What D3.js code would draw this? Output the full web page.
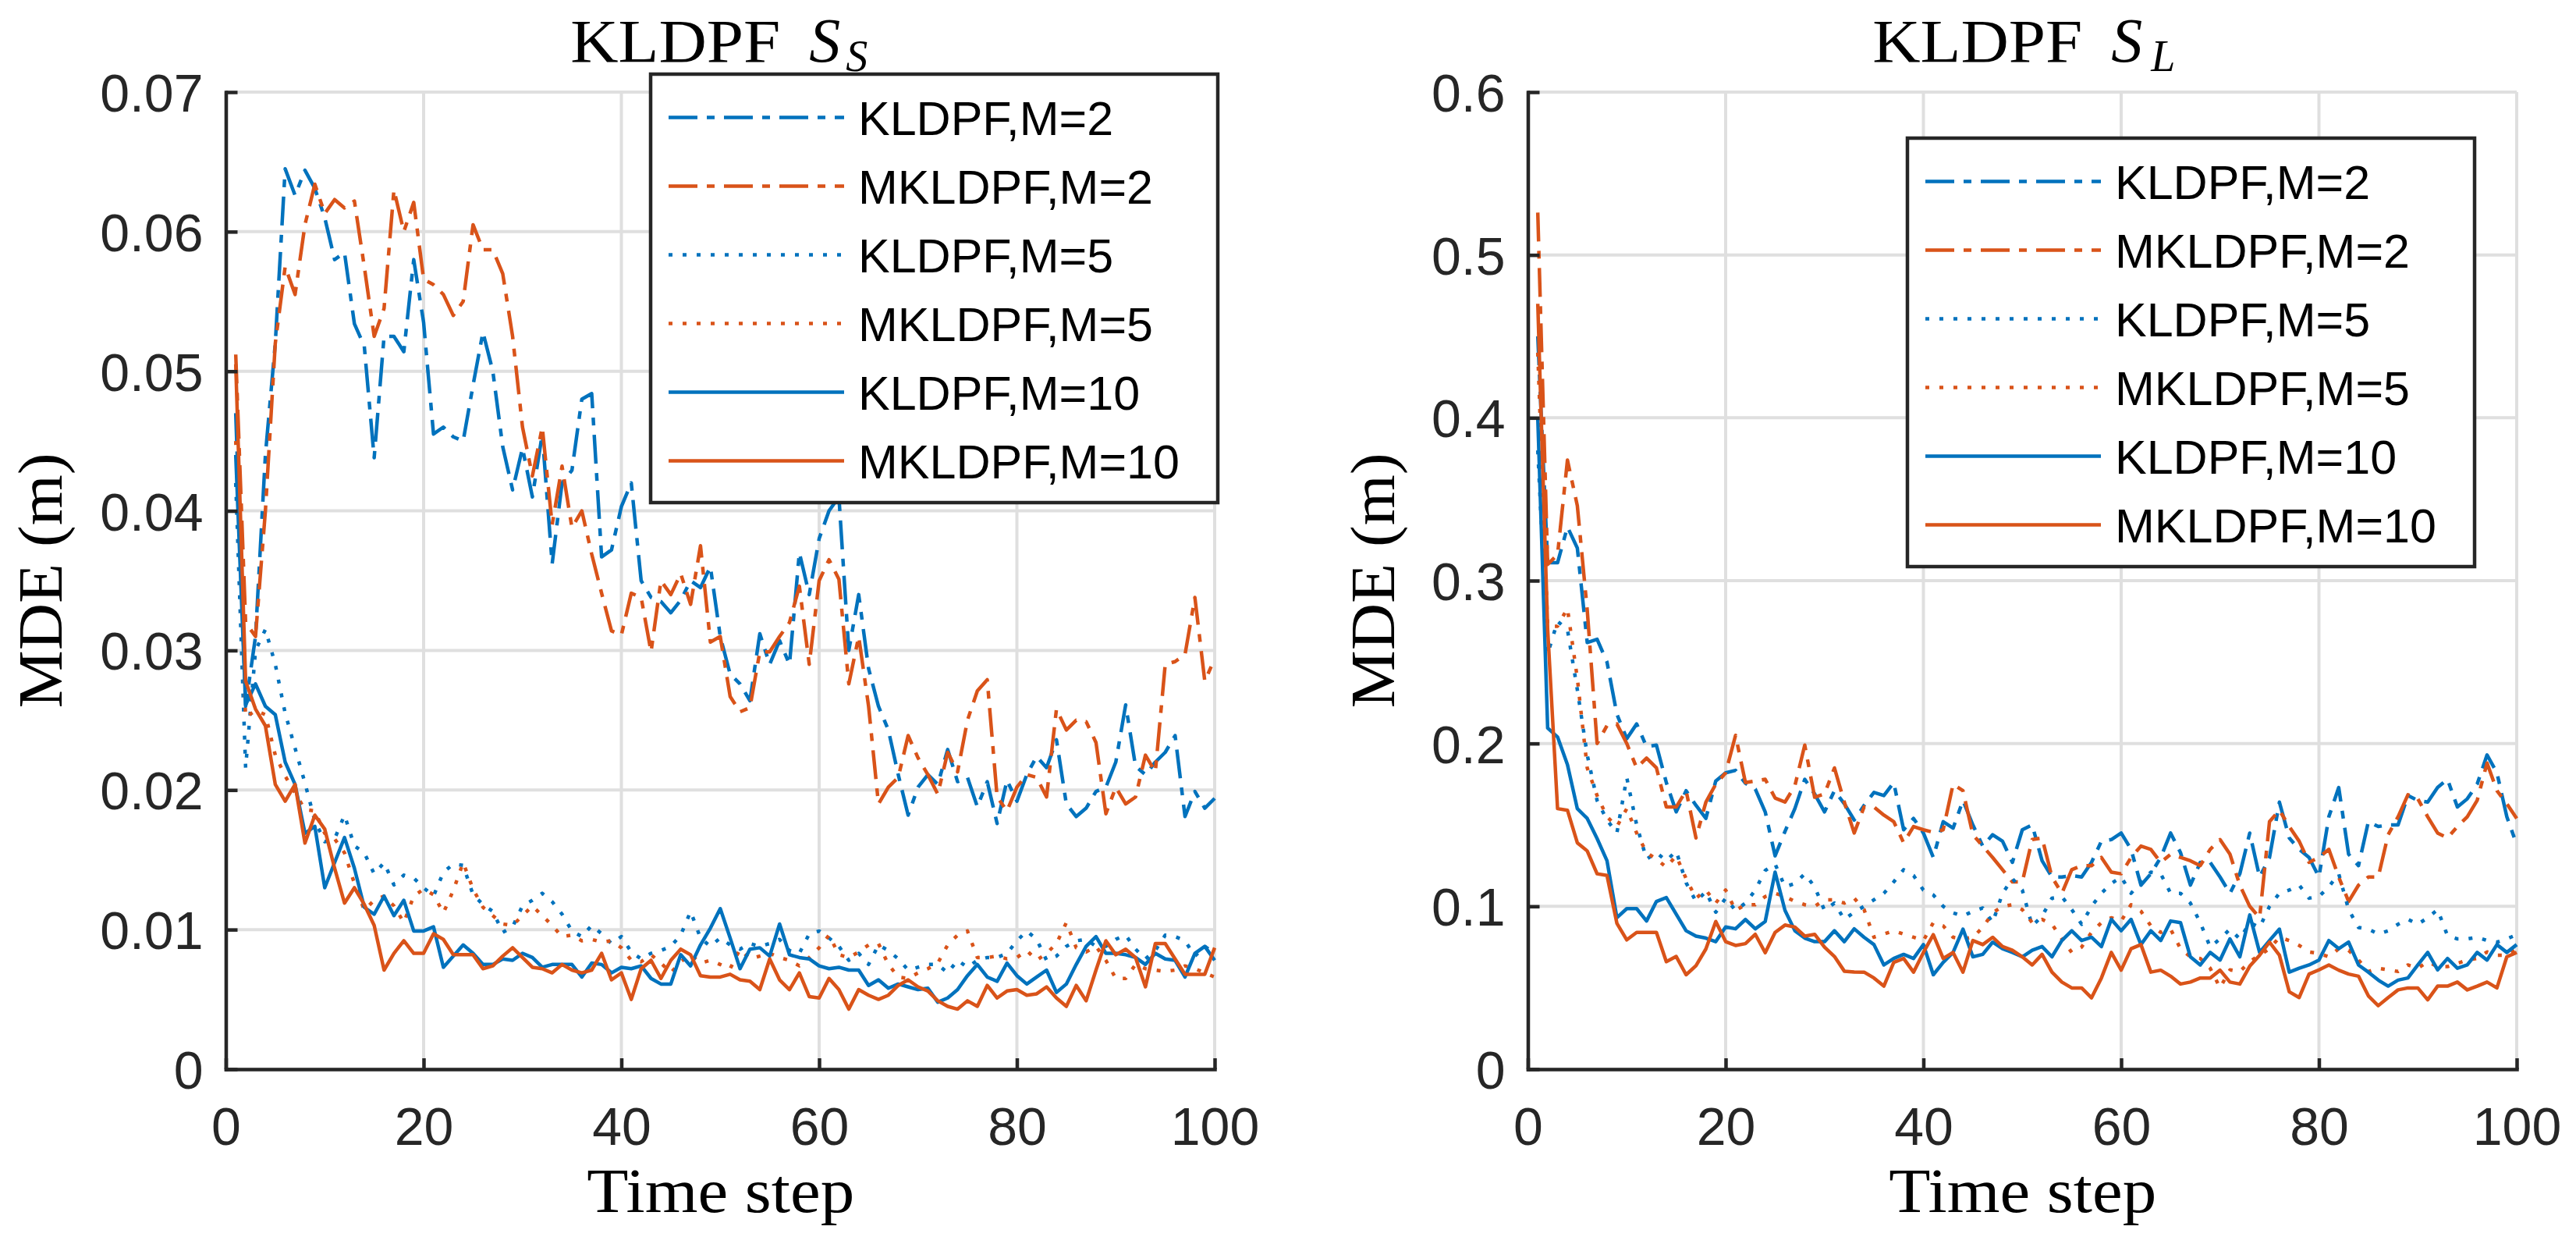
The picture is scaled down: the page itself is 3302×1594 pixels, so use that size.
<!DOCTYPE html>
<html>
<head>
<meta charset="utf-8">
<script src="https://cdn.jsdelivr.net/npm/d3@7/dist/d3.min.js"></script>
<style>
  body { margin: 0; background: #fff; }
  svg { display: block; }
</style>
</head>
<body>
<div id="chart"></div>
<script>
// time steps 1..100
const steps = d3.range(1, 101);

const seriesNames = ["KLDPF,M=2", "MKLDPF,M=2", "KLDPF,M=5", "MKLDPF,M=5", "KLDPF,M=10", "MKLDPF,M=10"];

const xTicks = [0, 20, 40, 60, 80, 100];
const xTickLabels = ["0", "20", "40", "60", "80", "100"];
const leftYTicks = [0, 0.01, 0.02, 0.03, 0.04, 0.05, 0.06, 0.07];
const leftYTickLabels = ["0", "0.01", "0.02", "0.03", "0.04", "0.05", "0.06", "0.07"];
const rightYTicks = [0, 0.1, 0.2, 0.3, 0.4, 0.5, 0.6];
const rightYTickLabels = ["0", "0.1", "0.2", "0.3", "0.4", "0.5", "0.6"];

// left panel (S_S)
const leftK2 = [0.047,0.026,0.031,0.044,0.052,0.0645,0.0626,0.0644,0.0631,0.061,
  0.058,0.0585,0.0534,0.0518,0.0438,0.0525,0.0525,0.0514,0.058,0.0535,
  0.0455,0.046,0.0453,0.045,0.049,0.0528,0.05,0.0446,0.0415,0.0445,
  0.041,0.0455,0.0362,0.042,0.0429,0.048,0.0484,0.0367,0.0372,0.0403,
  0.042,0.035,0.0338,0.0335,0.0327,0.0336,0.035,0.0345,0.036,0.031,
  0.0283,0.0276,0.0264,0.0312,0.029,0.0307,0.029,0.037,0.034,0.038,
  0.040,0.041,0.030,0.034,0.0287,0.026,0.0243,0.0211,0.0182,0.0202,
  0.0211,0.0204,0.0229,0.0206,0.0209,0.0188,0.0206,0.0176,0.0207,0.0192,
  0.0211,0.0224,0.0216,0.0236,0.019,0.0181,0.0187,0.0199,0.0202,0.022,
  0.0261,0.0217,0.0211,0.022,0.0227,0.0239,0.0181,0.0199,0.0187,0.0194];

const leftM2 = [0.0512,0.032,0.031,0.040,0.052,0.0575,0.0555,0.0605,0.0634,0.0613,
  0.0623,0.0617,0.0622,0.0575,0.0525,0.0545,0.063,0.060,0.0621,0.0566,
  0.0562,0.0555,0.054,0.055,0.0605,0.0587,0.0587,0.057,0.0525,0.046,
  0.0425,0.046,0.039,0.0432,0.0388,0.040,0.0369,0.0341,0.0314,0.0311,
  0.0341,0.0338,0.0299,0.035,0.034,0.0355,0.0333,0.0375,0.0306,0.031,
  0.0267,0.0256,0.0259,0.0299,0.0299,0.031,0.032,0.0346,0.029,0.035,
  0.0365,0.0351,0.0276,0.031,0.026,0.019,0.0202,0.0209,0.0239,0.0223,
  0.0211,0.0197,0.0227,0.0213,0.025,0.0271,0.0279,0.0195,0.0185,0.0202,
  0.0211,0.0209,0.0195,0.0258,0.0243,0.025,0.0249,0.0234,0.0183,0.0202,
  0.019,0.0195,0.0225,0.0213,0.029,0.0292,0.0297,0.0338,0.0278,0.0294];

const leftK5 = [0.042,0.0216,0.030,0.0315,0.029,0.0255,0.023,0.0205,0.0178,0.0163,
  0.0165,0.0182,0.016,0.0155,0.014,0.0148,0.0132,0.0139,0.0137,0.013,
  0.0124,0.0141,0.0147,0.0146,0.0125,0.0118,0.0113,0.0098,0.0102,0.0117,
  0.0121,0.0126,0.012,0.0111,0.0099,0.0095,0.0103,0.0097,0.009,0.0095,
  0.0084,0.0079,0.0083,0.0085,0.0088,0.0096,0.0113,0.0094,0.0088,0.0094,
  0.0089,0.0086,0.009,0.0088,0.009,0.0093,0.0085,0.0083,0.0097,0.0099,
  0.0094,0.0088,0.0078,0.0083,0.0075,0.0089,0.0085,0.0079,0.0071,0.0073,
  0.0075,0.0075,0.0069,0.0078,0.0073,0.0078,0.008,0.008,0.0083,0.0092,
  0.0099,0.0093,0.0078,0.0081,0.0088,0.0092,0.0093,0.0088,0.0088,0.0093,
  0.0096,0.0086,0.0079,0.0085,0.0096,0.0095,0.0092,0.0081,0.0088,0.0083];

const leftM5 = [0.045,0.0252,0.0257,0.0254,0.0225,0.021,0.0198,0.0186,0.0185,0.0169,
  0.0165,0.0155,0.0133,0.0114,0.0121,0.0124,0.0117,0.0105,0.0124,0.0129,
  0.0125,0.0112,0.0128,0.0148,0.0129,0.0116,0.011,0.0104,0.0103,0.011,
  0.0117,0.011,0.0103,0.0095,0.0096,0.0092,0.0093,0.0091,0.0092,0.0087,
  0.0078,0.0077,0.0082,0.0076,0.0069,0.0077,0.0082,0.0076,0.0078,0.0075,
  0.0072,0.0086,0.0079,0.0081,0.0083,0.008,0.0078,0.0074,0.008,0.0087,
  0.0096,0.0082,0.008,0.0084,0.0089,0.009,0.0075,0.0066,0.0065,0.0069,
  0.0072,0.0076,0.0089,0.0096,0.0099,0.008,0.008,0.0081,0.0079,0.008,
  0.0085,0.0078,0.0083,0.009,0.0105,0.0087,0.0084,0.0088,0.0078,0.0065,
  0.0065,0.0075,0.0072,0.0071,0.007,0.0071,0.0074,0.0072,0.0069,0.0066];

const leftK10 = [0.044,0.0261,0.0276,0.026,0.0254,0.022,0.0204,0.0169,0.0174,0.013,
  0.0148,0.0166,0.0144,0.0116,0.0111,0.0124,0.011,0.0121,0.0099,0.0099,
  0.0102,0.0073,0.0081,0.0089,0.0083,0.0075,0.0075,0.0079,0.0078,0.0083,
  0.008,0.0073,0.0075,0.0075,0.0075,0.0066,0.0076,0.0075,0.0069,0.0073,
  0.0072,0.0074,0.0065,0.0061,0.0061,0.0082,0.0074,0.0089,0.0101,0.0115,
  0.0094,0.0072,0.0086,0.0087,0.0081,0.0104,0.0082,0.008,0.0079,0.0074,
  0.0072,0.0073,0.0071,0.0071,0.006,0.0064,0.0058,0.0061,0.0059,0.0057,
  0.0058,0.0048,0.0051,0.0057,0.0067,0.0075,0.0066,0.0063,0.0076,0.0067,
  0.0061,0.0066,0.0071,0.0055,0.0061,0.0075,0.0088,0.0095,0.0083,0.0083,
  0.0082,0.008,0.0075,0.0083,0.0079,0.0078,0.0066,0.0083,0.0088,0.0078];

const leftM10 = [0.0505,0.0278,0.0258,0.0246,0.0204,0.0192,0.0204,0.0162,0.0182,0.0172,
  0.0144,0.0119,0.013,0.0118,0.0103,0.0071,0.0083,0.0092,0.0083,0.0083,
  0.0097,0.0093,0.0082,0.0082,0.0082,0.0072,0.0074,0.0081,0.0087,0.008,
  0.0073,0.0072,0.0069,0.0075,0.0071,0.0069,0.0071,0.0083,0.0064,0.0069,
  0.005,0.0072,0.0078,0.0065,0.0078,0.0086,0.0082,0.0067,0.0066,0.0066,
  0.0068,0.0064,0.0063,0.0057,0.0079,0.0064,0.0057,0.0069,0.0052,0.0051,
  0.0065,0.0057,0.0043,0.0057,0.0053,0.005,0.0053,0.006,0.0064,0.0059,
  0.0056,0.0049,0.0045,0.0043,0.0049,0.0045,0.006,0.0051,0.0056,0.0057,
  0.0053,0.0054,0.0059,0.0051,0.0045,0.006,0.0049,0.0071,0.0092,0.0082,
  0.0086,0.008,0.0059,0.009,0.009,0.0079,0.0068,0.0068,0.0068,0.0087];

// right panel (S_L)
const rightK2 = [0.45,0.311,0.311,0.333,0.32,0.262,0.264,0.25,0.218,0.203,
  0.212,0.198,0.199,0.176,0.158,0.171,0.162,0.154,0.177,0.182,
  0.1835,0.1756,0.172,0.158,0.131,0.146,0.16,0.178,0.169,0.158,
  0.171,0.163,0.153,0.162,0.17,0.168,0.176,0.147,0.154,0.145,
  0.13,0.152,0.148,0.165,0.15,0.137,0.144,0.14,0.127,0.147,
  0.15,0.128,0.118,0.118,0.119,0.118,0.127,0.14,0.141,0.145,
  0.135,0.113,0.12,0.13,0.145,0.133,0.113,0.127,0.127,0.118,
  0.108,0.12,0.145,0.118,0.13,0.164,0.142,0.135,0.13,0.118,
  0.155,0.173,0.132,0.125,0.152,0.149,0.15,0.15,0.168,0.165,
  0.164,0.173,0.178,0.161,0.166,0.175,0.193,0.182,0.155,0.138];

const rightM2 = [0.526,0.31,0.316,0.374,0.346,0.282,0.2,0.211,0.212,0.2,
  0.185,0.191,0.185,0.161,0.161,0.171,0.142,0.164,0.175,0.182,
  0.205,0.176,0.177,0.178,0.1665,0.164,0.174,0.199,0.167,0.169,
  0.185,0.164,0.145,0.161,0.161,0.156,0.152,0.139,0.149,0.147,
  0.1455,0.147,0.175,0.171,0.144,0.137,0.13,0.1225,0.115,0.115,
  0.141,0.142,0.118,0.108,0.1225,0.125,0.125,0.13,0.121,0.12,
  0.13,0.137,0.135,0.127,0.132,0.13,0.128,0.125,0.135,0.141,
  0.132,0.113,0.1,0.093,0.152,0.159,0.149,0.14,0.127,0.13,
  0.135,0.118,0.103,0.113,0.118,0.118,0.144,0.155,0.1685,0.166,
  0.155,0.145,0.142,0.149,0.155,0.165,0.188,0.171,0.163,0.154];

const rightK5 = [0.38,0.255,0.275,0.27,0.233,0.193,0.165,0.153,0.145,0.179,
  0.15,0.129,0.133,0.128,0.134,0.1145,0.103,0.109,0.0964,0.105,
  0.0975,0.102,0.11,0.122,0.126,0.112,0.114,0.12,0.112,0.0975,
  0.102,0.092,0.0964,0.1,0.104,0.108,0.115,0.1225,0.119,0.11,
  0.107,0.1,0.096,0.094,0.097,0.099,0.09,0.108,0.117,0.11,
  0.088,0.094,0.105,0.106,0.098,0.089,0.1,0.108,0.114,0.118,
  0.108,0.115,0.121,0.12,0.108,0.108,0.102,0.09,0.075,0.08,
  0.086,0.08,0.09,0.087,0.1,0.108,0.11,0.113,0.105,0.106,
  0.112,0.12,0.098,0.087,0.086,0.083,0.085,0.089,0.092,0.089,
  0.093,0.098,0.082,0.08,0.08,0.081,0.079,0.078,0.08,0.0826];

const rightM5 = [0.44,0.272,0.272,0.283,0.24,0.185,0.168,0.155,0.149,0.16,
  0.145,0.133,0.129,0.124,0.131,0.117,0.105,0.11,0.102,0.11,
  0.0975,0.101,0.101,0.106,0.108,0.106,0.103,0.101,0.1,0.104,
  0.104,0.102,0.105,0.098,0.081,0.083,0.085,0.083,0.081,0.079,
  0.09,0.088,0.081,0.08,0.081,0.087,0.096,0.1,0.101,0.098,
  0.09,0.092,0.089,0.08,0.0717,0.075,0.084,0.09,0.093,0.091,
  0.101,0.097,0.088,0.084,0.086,0.074,0.069,0.068,0.062,0.05,
  0.061,0.06,0.066,0.07,0.074,0.081,0.079,0.076,0.072,0.071,
  0.069,0.074,0.073,0.067,0.06,0.062,0.061,0.06,0.064,0.062,
  0.066,0.063,0.063,0.065,0.067,0.068,0.072,0.07,0.07,0.074];

const rightK10 = [0.40,0.2095,0.204,0.187,0.16,0.154,0.1416,0.128,0.093,0.0986,
  0.0986,0.091,0.103,0.1054,0.0952,0.085,0.0817,0.0805,0.0783,0.0873,
  0.0862,0.0919,0.0862,0.0907,0.121,0.0975,0.085,0.0805,0.0783,0.0783,
  0.085,0.0783,0.0862,0.081,0.0765,0.064,0.068,0.0705,0.068,0.0765,
  0.058,0.0656,0.0717,0.086,0.069,0.0705,0.078,0.074,0.0717,0.069,
  0.073,0.0753,0.069,0.079,0.085,0.079,0.081,0.0753,0.092,0.085,
  0.092,0.0765,0.085,0.079,0.091,0.09,0.069,0.064,0.0717,0.067,
  0.08,0.069,0.0947,0.0717,0.079,0.086,0.0596,0.062,0.064,0.067,
  0.079,0.074,0.078,0.064,0.0596,0.0547,0.051,0.0547,0.056,0.064,
  0.0717,0.061,0.068,0.062,0.064,0.0717,0.067,0.0765,0.0717,0.0765];

const rightM10 = [0.47,0.27,0.16,0.159,0.139,0.134,0.12,0.119,0.0896,0.0794,
  0.084,0.084,0.084,0.066,0.0692,0.058,0.0636,0.0738,0.0907,0.0783,
  0.076,0.0771,0.0828,0.0715,0.084,0.0885,0.0873,0.0817,0.0828,0.0749,
  0.0692,0.0602,0.0597,0.0596,0.056,0.051,0.0656,0.068,0.0596,0.0717,
  0.0826,0.068,0.0717,0.0596,0.079,0.0765,0.081,0.0753,0.073,0.069,
  0.064,0.0705,0.0596,0.0535,0.0499,0.0499,0.0438,0.056,0.0717,0.0608,
  0.074,0.0765,0.0596,0.0608,0.0571,0.0523,0.0535,0.056,0.056,0.0608,
  0.0535,0.0523,0.0632,0.07,0.078,0.07,0.0475,0.044,0.0584,0.061,
  0.064,0.0608,0.0584,0.0571,0.045,0.039,0.044,0.0487,0.0499,0.0499,
  0.0426,0.051,0.051,0.0535,0.0487,0.051,0.0535,0.0499,0.069,0.0717];

// line styles, same order as seriesNames
const blue = "#0072BD";
const orange = "#D95319";
const lineStyles = [
  { color: blue, dash: "37,12,10,12" },
  { color: orange, dash: "37,12,10,12" },
  { color: blue, dash: "5,13" },
  { color: orange, dash: "5,13" },
  { color: blue, dash: null },
  { color: orange, dash: null }
];

const W = 3302, H = 1594;
const axisColor = "#262626";
const gridColor = "#dfdfdf";
const tickFont = "'Liberation Sans', Arial, Helvetica, sans-serif";
const serifFont = "'Liberation Serif', 'Times New Roman', serif";

const svg = d3.select("#chart").append("svg")
  .attr("width", W)
  .attr("height", H)
  .style("background", "#fff");

function serifText(g, x, y, str, size, len) {
  const t = g.append("text")
    .attr("x", x).attr("y", y)
    .style("font-family", serifFont)
    .style("font-size", size + "px")
    .attr("fill", "#000")
    .text(str);
  if (len) t.attr("textLength", len).attr("lengthAdjust", "spacingAndGlyphs");
  return t;
}

function drawPanel(p) {
  const x = d3.scaleLinear().domain([0, 100]).range([p.left, p.right]);
  const y = d3.scaleLinear().domain([0, p.yMax]).range([p.bottom, p.top]);
  const g = svg.append("g");
  const cx = (p.left + p.right) / 2;

  // grid
  g.selectAll(".hgrid").data(p.yTicks).enter().append("line")
    .attr("x1", p.left).attr("x2", p.right)
    .attr("y1", d => y(d)).attr("y2", d => y(d))
    .attr("stroke", gridColor).attr("stroke-width", 4);
  g.selectAll(".vgrid").data(xTicks).enter().append("line")
    .attr("x1", d => x(d)).attr("x2", d => x(d))
    .attr("y1", p.top).attr("y2", p.bottom)
    .attr("stroke", gridColor).attr("stroke-width", 4);

  // data lines
  const clipId = "clip" + p.id;
  svg.append("clipPath").attr("id", clipId).append("rect")
    .attr("x", p.left).attr("y", p.top - 4)
    .attr("width", p.right - p.left + 4).attr("height", p.bottom - p.top + 4);

  const line = d3.line()
    .x((d, i) => x(steps[i]))
    .y(d => y(d));

  const lines = g.append("g").attr("clip-path", "url(#" + clipId + ")");
  p.series.forEach((s, k) => {
    lines.append("path")
      .attr("d", line(s))
      .attr("fill", "none")
      .attr("stroke", lineStyles[k].color)
      .attr("stroke-width", 4.5)
      .attr("stroke-linejoin", "round")
      .attr("stroke-dasharray", lineStyles[k].dash);
  });

  // axes
  const yAxis = d3.axisLeft(y)
    .tickValues(p.yTicks)
    .tickFormat((d, i) => p.yTickLabels[i])
    .tickSizeInner(-15).tickSizeOuter(0).tickPadding(29);
  const xAxis = d3.axisBottom(x)
    .tickValues(xTicks)
    .tickFormat((d, i) => xTickLabels[i])
    .tickSizeInner(-14).tickSizeOuter(0).tickPadding(49);

  const ya = g.append("g").attr("transform", "translate(" + p.left + ",0)").call(yAxis);
  const xa = g.append("g").attr("transform", "translate(0," + p.bottom + ")").call(xAxis);

  [ya, xa].forEach(a => {
    a.select(".domain").attr("stroke", axisColor).attr("stroke-width", 4.5).attr("stroke-linecap", "square");
    a.selectAll(".tick line").attr("stroke", axisColor).attr("stroke-width", 4.5);
    a.selectAll(".tick text")
      .attr("fill", axisColor)
      .style("font-family", tickFont)
      .style("font-size", "68px");
  });
  ya.selectAll(".tick text").attr("dy", "0.36em");

  // title: KLDPF S_x
  serifText(g, cx - 192, 79, "KLDPF", 78, 269);
  serifText(g, cx + 114, 79, "S", 80).style("font-style", "italic");
  serifText(g, cx + p.subDx, 91, p.sub, 56).style("font-style", "italic");

  // axis labels
  serifText(g, cx - 171, 1553, "Time step", 80, 343);

  g.append("text")
    .attr("transform", "translate(" + p.yLabelX + "," + ((p.top + p.bottom) / 2) + ") rotate(-90)")
    .attr("text-anchor", "middle")
    .style("font-family", serifFont)
    .style("font-size", "80px")
    .attr("fill", "#000")
    .attr("textLength", 327)
    .attr("lengthAdjust", "spacingAndGlyphs")
    .text("MDE (m)");

  // legend
  const lg = g.append("g").attr("transform", "translate(" + p.legX + "," + p.legY + ")");
  lg.append("rect")
    .attr("width", 727).attr("height", 549)
    .attr("fill", "#fff").attr("stroke", axisColor).attr("stroke-width", 4.5);
  seriesNames.forEach((name, k) => {
    const ry = 55.5 + 88 * k;
    lg.append("line")
      .attr("x1", 23).attr("x2", 248)
      .attr("y1", ry).attr("y2", ry)
      .attr("stroke", lineStyles[k].color)
      .attr("stroke-width", 4.5)
      .attr("stroke-dasharray", lineStyles[k].dash);
    lg.append("text")
      .attr("x", 266).attr("y", ry + 22)
      .style("font-family", tickFont)
      .style("font-size", "61px")
      .attr("fill", "#000")
      .text(name);
  });
}

drawPanel({
  id: "L", left: 289.5, right: 1557, top: 118, bottom: 1370,
  yMax: 0.07, yTicks: leftYTicks, yTickLabels: leftYTickLabels,
  series: [leftK2, leftM2, leftK5, leftM5, leftK10, leftM10],
  sub: "S", subDx: 161, yLabelX: 79, legX: 834, legY: 95
});

drawPanel({
  id: "R", left: 1958.5, right: 3226, top: 118, bottom: 1370,
  yMax: 0.6, yTicks: rightYTicks, yTickLabels: rightYTickLabels,
  series: [rightK2, rightM2, rightK5, rightM5, rightK10, rightM10],
  sub: "L", subDx: 165, yLabelX: 1787, legX: 2445, legY: 177
});
</script>
</body>
</html>
